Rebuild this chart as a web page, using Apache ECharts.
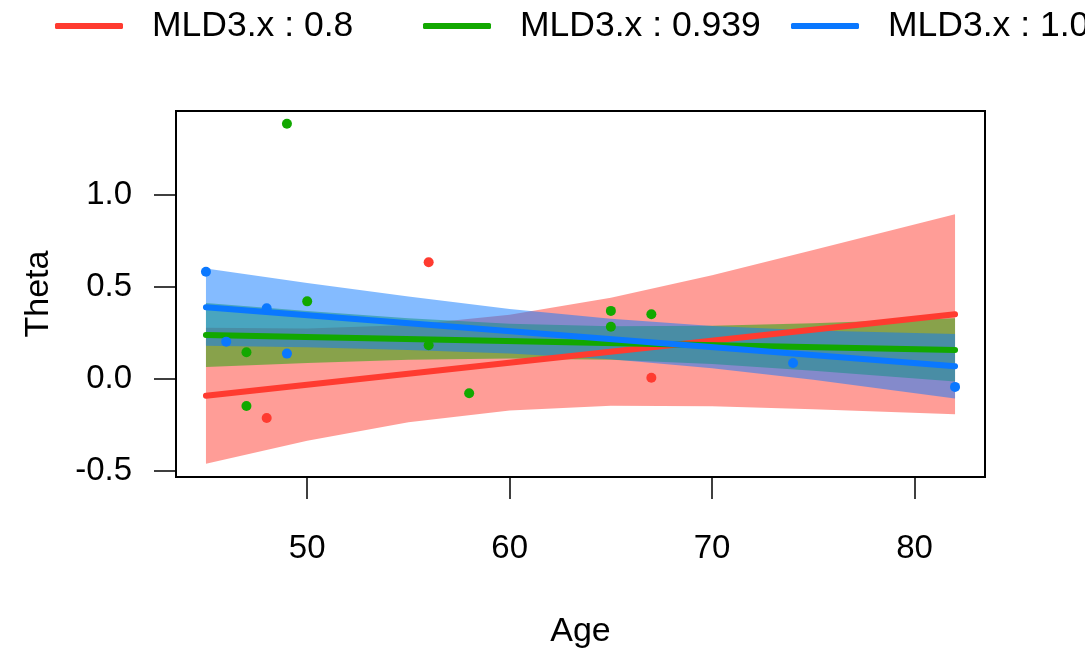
<!DOCTYPE html>
<html>
<head>
<meta charset="utf-8">
<script src="https://cdn.jsdelivr.net/npm/echarts@6/dist/echarts.min.js"></script>
<style>
  html, body { margin: 0; padding: 0; background: #fff; }
  #chart { width: 1085px; height: 655px; }
</style>
</head>
<body>
<div id="chart"></div>
<script>
// group labels (legend)
var groupNames = ['MLD3.x : 0.8', 'MLD3.x : 0.939', 'MLD3.x : 1.08'];

// observed points [Age, Theta]
var pointsRed = [[48, -0.212], [56, 0.634], [67, 0.007]];
var pointsGreen = [[47, -0.147], [47, 0.145], [49, 1.387], [50, 0.422], [56, 0.183],
                   [58, -0.078], [65, 0.284], [65, 0.370], [67, 0.352]];
var pointsBlue = [[45, 0.583], [46, 0.203], [48, 0.384], [49, 0.138], [74, 0.087], [82, -0.043]];

// fitted lines, ends of the age range
var fitAge = [45, 82];
var fitRed = [-0.091, 0.352];
var fitGreen = [0.239, 0.158];
var fitBlue = [0.390, 0.069];

// confidence bands read at these ages
var bandAge = [45, 50, 55, 60, 65, 70, 75, 82];
var redLo = [-0.461, -0.336, -0.235, -0.171, -0.146, -0.148, -0.165, -0.191];
var redHi = [0.279, 0.274, 0.293, 0.349, 0.442, 0.564, 0.701, 0.895];
var greenLo = [0.065, 0.087, 0.104, 0.112, 0.104, 0.081, 0.045, -0.014];
var greenHi = [0.413, 0.369, 0.330, 0.300, 0.286, 0.289, 0.303, 0.330];
var blueLo = [0.180, 0.172, 0.158, 0.139, 0.107, 0.058, -0.004, -0.106];
var blueHi = [0.600, 0.522, 0.448, 0.381, 0.327, 0.288, 0.264, 0.244];

// axis ticks
var ageTicks = [50, 60, 70, 80];
var thetaTicks = [-0.5, 0, 0.5, 1.0];

var colors = ['#FF3B30', '#12A800', '#0A78FF'];
var fills = ['rgba(255,59,48,0.5)', 'rgba(18,168,0,0.5)', 'rgba(10,120,255,0.5)'];
var font = "'Liberation Sans', Arial, Helvetica, sans-serif";

function pairs(xs, ys) {
  return xs.map(function (x, i) { return [x, ys[i]]; });
}

// confidence band as one polygon: upper edge left->right, lower edge back
function band(lo, hi, fill) {
  return {
    type: 'custom', silent: true, z: 1,
    data: bandAge.map(function (x, i) { return [x, lo[i], hi[i]]; }),
    encode: { x: 0, y: [1, 2] },
    renderItem: function (params, api) {
      if (params.dataIndex !== 0) return;
      var pts = [];
      var i;
      for (i = 0; i < bandAge.length; i++) pts.push(api.coord([bandAge[i], hi[i]]));
      for (i = bandAge.length - 1; i >= 0; i--) pts.push(api.coord([bandAge[i], lo[i]]));
      return {
        type: 'polygon',
        shape: { points: pts },
        style: { fill: fill, stroke: null }
      };
    }
  };
}

function fitLine(name, ys, color) {
  return {
    name: name, type: 'line', data: pairs(fitAge, ys), symbol: 'none', z: 3,
    color: color, lineStyle: { color: color, width: 6, cap: 'round' }
  };
}

function dots(pts, color) {
  return {
    type: 'scatter', data: pts, symbolSize: 10, z: 4,
    itemStyle: { color: color, opacity: 1 }
  };
}

function legendAt(left, name) {
  return {
    left: left, top: 3, data: [name], icon: 'roundRect',
    itemWidth: 68, itemHeight: 6,
    textStyle: { fontSize: 35.5, color: '#000', fontFamily: font, padding: [0, 0, 0, 24] }
  };
}

var chart = echarts.init(document.getElementById('chart'));

var series = [
  band(redLo, redHi, fills[0]),
  band(greenLo, greenHi, fills[1]),
  band(blueLo, blueHi, fills[2]),
  dots(pointsRed, colors[0]),
  dots(pointsGreen, colors[1]),
  dots(pointsBlue, colors[2]),
  fitLine(groupNames[0], fitRed, colors[0]),
  fitLine(groupNames[1], fitGreen, colors[1]),
  fitLine(groupNames[2], fitBlue, colors[2])
];

chart.setOption({
  animation: false,
  backgroundColor: '#fff',
  legend: [legendAt(50, groupNames[0]), legendAt(418, groupNames[1]), legendAt(786, groupNames[2])],
  grid: {
    left: 176, right: 100, top: 111, bottom: 178,
    show: true, borderColor: '#000', borderWidth: 2, backgroundColor: 'transparent'
  },
  xAxis: {
    type: 'value', min: 43.52, max: 83.48,
    name: 'Age', nameLocation: 'middle', nameGap: 138,
    nameTextStyle: { fontSize: 34, color: '#000', fontFamily: font },
    axisLine: { show: false, onZero: false },
    splitLine: { show: false },
    axisTick: { show: true, inside: false, length: 22, customValues: ageTicks,
                lineStyle: { color: '#000', width: 1.5 } },
    axisLabel: { customValues: ageTicks, margin: 55, fontSize: 33, color: '#000', fontFamily: font }
  },
  yAxis: {
    type: 'value', min: -0.5327, max: 1.4565,
    name: 'Theta', nameLocation: 'middle', nameGap: 120, nameRotate: 90,
    nameTextStyle: { fontSize: 34, color: '#000', fontFamily: font },
    axisLine: { show: false, onZero: false },
    splitLine: { show: false },
    axisTick: { show: true, inside: false, length: 22, customValues: thetaTicks,
                lineStyle: { color: '#000', width: 1.5 } },
    axisLabel: {
      customValues: thetaTicks, margin: 44, fontSize: 33, color: '#000', fontFamily: font,
      formatter: function (v) { return v.toFixed(1); }
    }
  },
  series: series
});
</script>
</body>
</html>
